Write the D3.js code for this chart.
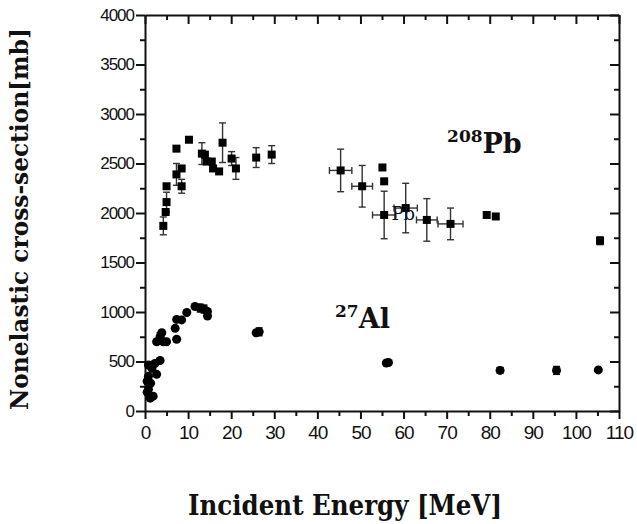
<!DOCTYPE html>
<html>
<head>
<meta charset="utf-8">
<script src="https://cdn.jsdelivr.net/npm/d3@7"></script>
<style>
  body { margin: 0; background: #fff; }
  svg { display: block; }
  .tick text { font-family: "Liberation Sans", Arial, sans-serif; fill: #111; }
  .lbl { font-family: "DejaVu Serif", "Liberation Serif", serif; font-weight: bold; fill: #111; }
</style>
</head>
<body>
<div id="chart"></div>
<script>
// 208Pb : energy [MeV], cross-section [mb], y error, x error
var pbEnergy = [4.25, 4.8, 5.0, 5.0, 7.3, 7.3, 8.5, 8.5, 10.2, 13.2, 13.9, 14.3, 15.5, 15.8, 17.2, 18.0, 20.1, 21.1, 25.8, 29.4,
                45.4, 50.4, 55.1, 55.5, 55.5, 60.5, 65.4, 70.9, 79.3, 81.4, 105.6]
var pbXs     = [1870, 2010, 2110, 2270, 2650, 2390, 2450, 2270, 2740, 2600, 2590, 2520, 2520, 2450, 2420, 2710, 2550, 2450, 2560, 2590,
                2430, 2270, 2460, 2320, 1980, 2050, 1930, 1890, 1980, 1965, 1720]
var pbErr    = [90, 0, 100, 0, 0, 110, 0, 70, 0, 110, 0, 0, 0, 0, 0, 200, 70, 110, 100, 90,
                215, 210, 0, 0, 240, 250, 215, 160, 0, 0, 40]
var pbEErr   = [0, 0, 0, 0, 0, 0, 0, 0, 0, 0, 0, 0, 0, 0, 0, 0, 0, 0, 0, 0,
                2.6, 2.4, 0, 0, 2.7, 2.7, 2.4, 2.9, 0, 0, 0]

// 27Al
var alEnergy = [0.5, 0.8, 1.2, 1.9, 1.3, 0.8, 2.7, 1.6, 0.8, 2.3, 3.5, 0.5, 2.7, 3.5, 3.9, 4.25, 5.0, 7.35, 7.0, 7.35, 8.5, 9.7,
                11.6, 12.8, 13.7, 14.5, 14.5, 25.8, 26.5, 56.0, 56.5, 82.4, 95.5, 105.2]
var alXs     = [190, 220, 130, 150, 280, 350, 370, 430, 465, 480, 510, 300, 700, 750, 790, 700, 700, 725, 835, 925, 920, 995,
                1055, 1040, 1030, 1005, 960, 790, 800, 485, 490, 410, 410, 415]
var alErr    = [0, 0, 0, 0, 0, 0, 0, 0, 0, 0, 0, 0, 0, 40, 0, 0, 0, 0, 0, 0, 0, 0,
                0, 40, 40, 0, 0, 0, 40, 0, 0, 30, 40, 0]

var xTicks = d3.range(0, 111, 5)
var yTicks = d3.range(0, 4001, 250)

var pb = pbEnergy.map((e, i) => ({e: e, v: pbXs[i], dv: pbErr[i], de: pbEErr[i]}))
var al = alEnergy.map((e, i) => ({e: e, v: alXs[i], dv: alErr[i], de: 0}))

var margin = {left: 145, top: 15, right: 18, bottom: 113}
var width = 637 - margin.left - margin.right
var height = 524 - margin.top - margin.bottom

var svg = d3.select('#chart').append('svg')
  .attr('width', 637).attr('height', 524)
var g = svg.append('g').attr('transform', `translate(${margin.left},${margin.top})`)

var x = d3.scaleLinear().domain([0, 110]).range([0, width])
var y = d3.scaleLinear().domain([0, 4000]).range([height, 0])

var isMajorX = d => d % 10 == 0
var isMajorY = d => d % 500 == 0

function styleAxis(sel, major, long, short){
  sel.select('.domain').attr('stroke', '#111').attr('stroke-width', 2)
  sel.selectAll('.tick line').attr('stroke', '#111').attr('stroke-width', 2)
    .each(function(d){
      var l = d3.select(this)
      var len = major(d) ? long : short
      if (l.attr('x2') != null && +l.attr('x2') != 0) l.attr('x2', Math.sign(+l.attr('x2'))*len)
      if (l.attr('y2') != null && +l.attr('y2') != 0) l.attr('y2', Math.sign(+l.attr('y2'))*len)
    })
}

// bottom
g.append('g').attr('transform', `translate(0,${height})`)
  .call(d3.axisBottom(x).tickValues(xTicks).tickSizeOuter(0).tickPadding(9)
    .tickFormat(d => isMajorX(d) ? d : ''))
  .call(sel => styleAxis(sel, isMajorX, 8, 5))
  .selectAll('text').style('font-size', '19px').style('letter-spacing', '-1px')

// top (ticks inward)
g.append('g')
  .call(d3.axisBottom(x).tickValues(xTicks).tickSizeOuter(0).tickFormat(''))
  .call(sel => styleAxis(sel, isMajorX, 9, 5))

// left
g.append('g')
  .call(d3.axisLeft(y).tickValues(yTicks).tickSizeOuter(0).tickPadding(5)
    .tickFormat(d => isMajorY(d) ? d : ''))
  .call(sel => styleAxis(sel, isMajorY, 9, 5))
  .selectAll('text').style('font-size', '17px').style('letter-spacing', '-1px')

// right (ticks inward)
g.append('g').attr('transform', `translate(${width},0)`)
  .call(d3.axisLeft(y).tickValues(yTicks).tickSizeOuter(0).tickFormat(''))
  .call(sel => styleAxis(sel, isMajorY, 9, 5))

// error bars
function errorBars(data, color){
  var eb = g.append('g').attr('stroke', color).attr('stroke-width', 1.4).attr('fill', 'none')
  var cap = 3.5
  data.filter(d => d.dv > 0).forEach(d => {
    var cx = x(d.e), y0 = y(d.v - d.dv), y1 = y(d.v + d.dv)
    eb.append('line').attr('x1', cx).attr('x2', cx).attr('y1', y0).attr('y2', y1)
    eb.append('line').attr('x1', cx - cap).attr('x2', cx + cap).attr('y1', y0).attr('y2', y0)
    eb.append('line').attr('x1', cx - cap).attr('x2', cx + cap).attr('y1', y1).attr('y2', y1)
  })
  data.filter(d => d.de > 0).forEach(d => {
    var cy = y(d.v), x0 = x(d.e - d.de), x1 = x(d.e + d.de)
    eb.append('line').attr('x1', x0).attr('x2', x1).attr('y1', cy).attr('y2', cy)
    eb.append('line').attr('x1', x0).attr('x2', x0).attr('y1', cy - cap).attr('y2', cy + cap)
    eb.append('line').attr('x1', x1).attr('x2', x1).attr('y1', cy - cap).attr('y2', cy + cap)
  })
}
errorBars(pb, '#333')
errorBars(al, '#111')

// markers
var sq = 8
g.append('g').selectAll('rect').data(pb).join('rect')
  .attr('x', d => x(d.e) - sq/2).attr('y', d => y(d.v) - sq/2)
  .attr('width', sq).attr('height', sq).attr('fill', '#000')

g.append('g').selectAll('circle').data(al).join('circle')
  .attr('cx', d => x(d.e)).attr('cy', d => y(d.v)).attr('r', 4.5).attr('fill', '#000')

// annotations
var pbLab = g.append('text').attr('class', 'lbl')
  .attr('x', x(70.1)).attr('y', y(2606))
pbLab.append('tspan').text('208').style('font-size', '17px').attr('dy', -11)
pbLab.append('tspan').text('Pb').style('font-size', '27px').attr('dy', 11)

var alLab = g.append('text').attr('class', 'lbl')
  .attr('x', x(44.1)).attr('y', y(838))
alLab.append('tspan').text('27').style('font-size', '17px').attr('dy', -11)
alLab.append('tspan').text('Al').style('font-size', '27px').attr('dy', 11)

g.append('text')
  .attr('x', x(57.2)).attr('y', y(1929))
  .style('font-family', '"DejaVu Serif", serif').style('font-size', '18px').style('fill', '#0d1526')
  .text('Pb')

// axis titles
svg.append('text').attr('class', 'lbl')
  .attr('transform', 'translate(28,219) rotate(-90)')
  .attr('text-anchor', 'middle')
  .attr('textLength', 382).attr('lengthAdjust', 'spacingAndGlyphs')
  .style('font-size', '24px')
  .text('Nonelastic cross-section[mb]')

svg.append('text').attr('class', 'lbl')
  .attr('x', 345).attr('y', 515)
  .attr('text-anchor', 'middle')
  .attr('textLength', 314).attr('lengthAdjust', 'spacingAndGlyphs')
  .style('font-size', '27px')
  .text('Incident Energy [MeV]')
</script>
</body>
</html>
